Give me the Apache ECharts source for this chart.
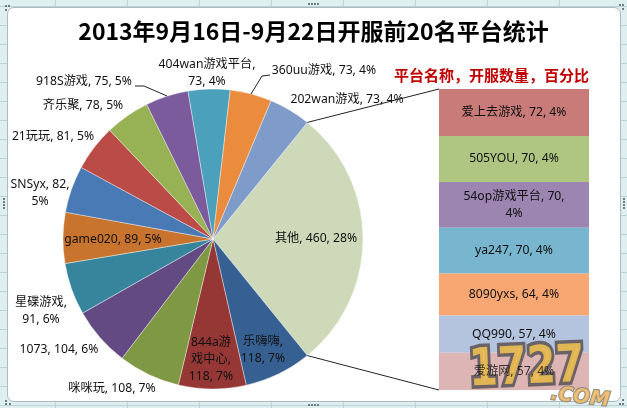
<!DOCTYPE html>
<html>
<head>
<meta charset="utf-8">
<style>
html, body { margin: 0; padding: 0; width: 627px; height: 408px; overflow: hidden; }
body {
    background-color: #dfeeee;
    background-image:
        linear-gradient(to right, #bcd3d6 1px, transparent 1px),
        linear-gradient(to bottom, #bcd3d6 1px, transparent 1px);
    background-size: 72px 19px;
    background-position: -17px -13px;
}
#sheet {
    position: absolute; left: 7px; top: 7px; width: 612px; height: 393px;
    background: #fff; border: 1px solid #a9bcc0; border-radius: 7px;
}
#main { position: absolute; left: 0; top: 0; width: 627px; height: 408px; }
.dot { position: absolute; width: 2px; height: 2px; background: #6f7f85; }
</style>
</head>
<body>
<div id="sheet"></div>
<div class="dot" style="left:5px;top:5px;box-shadow:3px 0 #6f7f85,0 4px #6f7f85"></div>
<div class="dot" style="left:619px;top:4px;box-shadow:3px 0 #6f7f85,3px 4px #6f7f85"></div>
<div class="dot" style="left:5px;top:400px;box-shadow:0 3px #6f7f85,4px 3px #6f7f85"></div>
<div class="dot" style="left:619px;top:403px;box-shadow:3px 0 #6f7f85,3px -4px #6f7f85"></div>
<div class="dot" style="left:308px;top:3px;box-shadow:3px 0 #6f7f85,6px 0 #6f7f85,9px 0 #6f7f85"></div>
<div class="dot" style="left:308px;top:404px;box-shadow:3px 0 #6f7f85,6px 0 #6f7f85,9px 0 #6f7f85"></div>
<div class="dot" style="left:3px;top:198px;box-shadow:0 3px #6f7f85,0 6px #6f7f85,0 9px #6f7f85"></div>
<div class="dot" style="left:623px;top:198px;box-shadow:0 3px #6f7f85,0 6px #6f7f85,0 9px #6f7f85"></div>
<div id="main"></div>
<script src="https://cdn.jsdelivr.net/npm/echarts@6/dist/echarts.min.js"></script>
<script>
// 饼图：其他 + 前13名
var pieNames = ['其他', '乐嗨嗨', '844a游戏中心', '咪咪玩', '1073', '星碟游戏', 'game020', 'SNSyx', '21玩玩', '齐乐聚', '918S游戏', '404wan游戏平台', '360uu游戏', '202wan游戏'];
var pieValues = [460, 118, 118, 108, 104, 91, 89, 82, 81, 78, 75, 73, 73, 73];
var pieColors = ['#cdd9b9', '#376092', '#953735', '#7e9843', '#644a82', '#37859c', '#c8742f', '#4a7ab5', '#bb4b47', '#97b254', '#7b5b9b', '#4ba0bb', '#ea8b3e', '#7f9bca'];
var pieLabels = ['其他, 460, 28%', '乐嗨嗨,\n118, 7%', '844a游\n戏中心,\n118, 7%', '咪咪玩, 108, 7%', '1073, 104, 6%', '星碟游戏,\n91, 6%', 'game020, 89, 5%', 'SNSyx, 82,\n5%', '21玩玩, 81, 5%', '齐乐聚, 78, 5%', '918S游戏, 75, 5%', '404wan游戏平台,\n73, 4%', '360uu游戏, 73, 4%', '202wan游戏, 73, 4%'];
var labelSpots = [[316, 239], [263, 350], [211, 360], [112, 389], [59, 350], [41, 311], [113, 240], [40, 193], [53, 137], [83, 106], [84, 82], [207, 73], [324, 71], [347, 100]];

// 右侧堆叠条：其他的细分
var stackNames = ['爱上去游戏', '505YOU', '54op游戏平台', 'ya247', '8090yxs', 'QQ990', '爱游网'];
var stackValues = [72, 70, 70, 70, 64, 57, 57];
var stackColors = ['#c87b79', '#aec682', '#9c85b1', '#78b6cf', '#f9a772', '#b4c4de', '#deb5b5'];
var stackLabels = ['爱上去游戏, 72, 4%', '505YOU, 70, 4%', '54op游戏平台, 70,\n4%', 'ya247, 70, 4%', '8090yxs, 64, 4%', 'QQ990, 57, 4%', '爱游网, 57, 4%'];

var fontName = '"Noto Sans", "Noto Sans CJK SC", sans-serif';
var cx = 213, cy = 239, r = 150;
var stackLeft = 439, stackTop = 89, stackW = 150, stackH = 301;

var total = pieValues.reduce(function (a, b) { return a + b; }, 0);
var stackTotal = stackValues.reduce(function (a, b) { return a + b; }, 0);
var halfAngle = pieValues[0] / total * 180;
var edgeX = cx + r * Math.cos(halfAngle * Math.PI / 180);
var edgeDy = r * Math.sin(halfAngle * Math.PI / 180);
var lastIndex = stackValues.length - 1;

var series = [{
    type: 'pie',
    center: [cx, cy],
    radius: [0, r],
    startAngle: halfAngle,
    clockwise: true,
    avoidLabelOverlap: false,
    itemStyle: { borderColor: 'rgba(255,255,255,0.55)', borderWidth: 0.7 },
    label: {
        formatter: function (p) { return pieLabels[p.dataIndex]; },
        color: '#111',
        fontFamily: fontName,
        fontSize: 12.2,
        lineHeight: 17,
        align: 'center'
    },
    labelLine: { show: false },
    labelLayout: function (p) {
        return {
            x: labelSpots[p.dataIndex][0],
            y: labelSpots[p.dataIndex][1],
            align: 'center',
            verticalAlign: 'middle'
        };
    },
    data: pieNames.map(function (n, i) {
        return { name: n, value: pieValues[i], itemStyle: { color: pieColors[i] } };
    })
}];

stackNames.forEach(function (n, i) {
    series.push({
        type: 'bar',
        name: n,
        stack: 'others',
        barWidth: stackW,
        data: [stackValues[i]],
        itemStyle: { color: stackColors[i] },
        label: {
            show: i !== lastIndex,
            position: 'inside',
            formatter: stackLabels[i],
            color: '#111',
            fontFamily: fontName,
            fontSize: 12.2,
            lineHeight: 17
        }
    });
});

// 最后一段的文字要压在水印上面，单独放一层
series.push({
    type: 'scatter',
    z: 9,
    symbolSize: 0,
    silent: true,
    data: [[0, stackTotal - stackValues[lastIndex] / 2]],
    label: {
        show: true,
        position: 'inside',
        formatter: stackLabels[lastIndex],
        color: '#111',
        fontFamily: fontName,
        fontSize: 12.2
    }
});

var myChart = echarts.init(document.getElementById('main'));
myChart.setOption({
    animation: false,
    backgroundColor: 'transparent',
    title: {
        text: '2013年9月16日-9月22日开服前20名平台统计',
        left: 'center',
        top: 15,
        textStyle: { color: '#000', fontSize: 23, fontWeight: 'bold', fontFamily: '"Noto Sans CJK SC", sans-serif' }
    },
    grid: { left: stackLeft, top: stackTop, width: stackW, height: stackH },
    xAxis: { type: 'category', data: ['其他'], show: false },
    yAxis: { type: 'value', min: 0, max: stackTotal, inverse: true, show: false },
    series: series,
    graphic: [
        {
            type: 'text', left: 394, top: 68, z: 5,
            style: { text: '平台名称，开服数量，百分比', fill: '#c00000', fontSize: 15, fontWeight: 'bold', fontFamily: '"Noto Sans CJK SC", sans-serif' }
        },
        // 饼图和堆叠条之间的连接线
        { type: 'line', z: 6, shape: { x1: edgeX, y1: cy - edgeDy, x2: stackLeft, y2: stackTop }, style: { stroke: '#222', lineWidth: 1 } },
        { type: 'line', z: 6, shape: { x1: edgeX, y1: cy + edgeDy, x2: stackLeft, y2: stackTop + stackH }, style: { stroke: '#222', lineWidth: 1 } },
        // 标签引导线
        { type: 'polyline', z: 6, shape: { points: [[135, 86], [144, 86], [167, 96]] }, style: { stroke: '#222', fill: 'none', lineWidth: 1 } },
        { type: 'polyline', z: 6, shape: { points: [[270, 75], [262, 76], [251, 94]] }, style: { stroke: '#222', fill: 'none', lineWidth: 1 } },
        // 水印
        {
            type: 'text', x: 468, y: 346, z: 8, scaleX: 0.8, rotation: 0.04,
            style: { text: '1727', fill: '#ecbd52', stroke: '#625a5e', lineWidth: 7, fontSize: 52, fontWeight: 900, fontFamily: '"DejaVu Sans", sans-serif', opacity: 0.92 }
        },
        {
            type: 'text', x: 552, y: 384, z: 8, rotation: -0.12,
            style: { text: '.COM', fill: '#edbb6b', stroke: '#8d8478', lineWidth: 2, fontSize: 20, fontWeight: 900, fontStyle: 'italic', fontFamily: '"DejaVu Sans", sans-serif', opacity: 0.9 }
        }
    ]
});
window.addEventListener('resize', function () {
    myChart.resize();
});
</script>
</body>
</html>
